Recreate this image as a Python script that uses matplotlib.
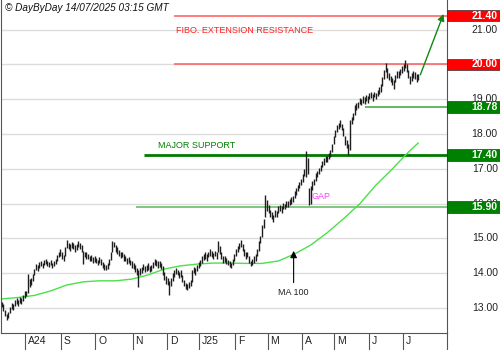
import numpy as np
import matplotlib
matplotlib.use('Agg')
import matplotlib.pyplot as plt
import matplotlib.transforms as mtransforms
from matplotlib.patches import Rectangle

plt.rcParams['font.family'] = ['Liberation Sans', 'DejaVu Sans']

# daily bars, index 0 = first session of August 2024
first_bar = -15
lows = [
    13.02, 12.92, 12.76, 12.66, 12.72, 12.85, 12.98, 12.93, 13.05, 13.12, 13.05, 13.15, 13.10, 13.20, 13.30,
    13.35, 13.42, 13.60, 13.65, 13.78, 13.95, 14.08, 14.05, 14.15, 14.20, 14.15, 14.22, 14.26, 14.20, 14.18, 14.22, 14.15, 14.20, 14.25, 14.35, 14.45, 14.50,
    14.42, 14.35, 14.50, 14.72, 14.70, 14.65, 14.72, 14.68, 14.60, 14.66, 14.75, 14.70, 14.62, 14.25, 14.45, 14.42, 14.40, 14.34, 14.36, 14.30, 14.32,
    14.28, 14.22, 14.28, 14.24, 14.16, 14.10, 14.08, 14.12, 14.22, 14.38, 14.60, 14.75, 14.62, 14.55, 14.48, 14.44, 14.46, 14.36, 14.34, 14.26, 14.28, 14.22, 14.16,
    14.12, 14.04, 13.96, 13.60, 13.95, 14.00, 14.08, 14.04, 14.06, 14.10, 14.04, 14.06, 14.14, 14.22, 14.20, 14.16, 14.18, 14.12, 13.95, 13.80, 13.70,
    13.65, 13.37, 13.62, 13.78, 13.90, 13.98, 13.94, 13.86, 13.90, 13.76, 13.62, 13.55, 13.52, 13.56, 13.62, 13.75, 14.00, 13.96, 14.05, 14.15,
    14.20, 14.30, 14.38, 14.42, 14.36, 14.45, 14.50, 14.46, 14.42, 14.48, 14.42, 14.60, 14.55, 14.42, 14.30, 14.32, 14.26, 14.22, 14.18, 14.15, 14.24, 14.35,
    14.50, 14.60, 14.70, 14.76, 14.65, 14.50, 14.42, 14.45, 14.30, 14.20, 14.24, 14.30, 14.36, 14.48, 14.65, 14.88, 15.05, 15.30, 15.60, 15.80,
    15.72, 15.60, 15.55, 15.48, 15.60, 15.62, 15.72, 15.78, 15.74, 15.84, 15.84, 15.90, 15.90, 15.95, 16.00, 16.05, 16.15, 16.26, 16.35, 16.44, 16.52,
    16.62, 16.78, 16.75, 16.85, 15.95, 16.00, 16.40, 16.52, 16.65, 16.76, 16.85, 16.95, 17.05, 17.12, 17.20, 17.18, 17.28, 17.35, 17.48, 17.70,
    17.90, 18.05, 18.15, 18.20, 18.10, 17.95, 17.68, 17.60, 17.40, 17.55, 18.28, 18.40, 18.55, 18.70, 18.75, 18.85, 18.82, 18.90, 18.85, 18.95, 18.90,
    19.00, 19.02, 18.95, 19.05, 19.00, 19.08, 19.15, 19.22, 19.38, 19.58, 19.78, 19.60, 19.55, 19.48, 19.40, 19.30, 19.48, 19.62, 19.62, 19.70, 19.75,
    19.82, 19.90, 19.78, 19.60, 19.45, 19.52, 19.62, 19.58, 19.50, 19.55,
]
highs = [
    13.18, 13.12, 12.95, 12.84, 12.88, 13.02, 13.15, 13.10, 13.22, 13.30, 13.22, 13.32, 13.28, 13.38, 13.48,
    13.50, 13.98, 13.82, 13.85, 13.98, 14.12, 14.25, 14.22, 14.32, 14.36, 14.30, 14.38, 14.42, 14.36, 14.32, 14.37, 14.30, 14.35, 14.42, 14.52, 14.62, 14.68,
    14.60, 14.52, 14.75, 14.95, 14.88, 14.85, 14.90, 14.86, 14.80, 14.85, 14.92, 14.88, 14.82, 14.65, 14.62, 14.60, 14.56, 14.50, 14.52, 14.46, 14.48,
    14.44, 14.38, 14.45, 14.40, 14.33, 14.26, 14.24, 14.30, 14.42, 14.60, 14.92, 14.90, 14.82, 14.75, 14.66, 14.60, 14.62, 14.54, 14.50, 14.44, 14.45, 14.38, 14.34,
    14.28, 14.22, 14.14, 14.10, 14.15, 14.18, 14.25, 14.20, 14.24, 14.28, 14.20, 14.24, 14.32, 14.40, 14.38, 14.34, 14.36, 14.30, 14.20, 14.02, 13.92,
    13.85, 13.78, 13.85, 14.00, 14.08, 14.15, 14.10, 14.04, 14.08, 13.95, 13.80, 13.72, 13.68, 13.74, 13.80, 14.08, 14.18, 14.14, 14.22, 14.32,
    14.38, 14.48, 14.55, 14.60, 14.54, 14.62, 14.68, 14.64, 14.58, 14.65, 14.62, 14.92, 14.78, 14.60, 14.48, 14.50, 14.44, 14.38, 14.36, 14.30, 14.42, 14.55,
    14.70, 14.78, 14.88, 14.95, 14.85, 14.70, 14.60, 14.62, 14.50, 14.36, 14.40, 14.48, 14.55, 14.70, 14.92, 15.08, 15.38, 15.55, 16.25, 16.10,
    15.95, 15.82, 15.75, 15.66, 15.82, 15.80, 15.92, 15.95, 15.92, 16.02, 16.00, 16.08, 16.06, 16.12, 16.18, 16.22, 16.35, 16.45, 16.52, 16.62, 16.70,
    16.85, 17.00, 17.50, 17.30, 16.45, 16.50, 16.65, 16.72, 16.88, 16.95, 17.02, 17.12, 17.22, 17.30, 17.38, 17.36, 17.45, 17.55, 17.70, 17.95,
    18.12, 18.25, 18.32, 18.40, 18.30, 18.18, 17.95, 17.82, 17.70, 18.40, 18.50, 18.60, 18.82, 18.88, 18.92, 19.02, 19.00, 19.08, 19.05, 19.12, 19.08,
    19.18, 19.20, 19.15, 19.22, 19.18, 19.26, 19.35, 19.45, 19.65, 19.85, 20.05, 19.90, 19.75, 19.68, 19.62, 19.55, 19.70, 19.82, 19.80, 19.88, 19.95,
    20.02, 20.12, 20.00, 19.85, 19.68, 19.75, 19.82, 19.78, 19.72, 19.72,
]

# MA 100, read every 10 sessions
ma_idx = [-15, -5, 5, 15, 25, 35, 45, 55, 65, 75, 85, 95, 105, 115, 125, 135,
          145, 155, 165, 175, 185, 195, 205, 215, 225, 235, 241]
ma_val = [13.26, 13.30, 13.36, 13.49, 13.66, 13.75, 13.78, 13.78, 13.83, 13.95,
          14.12, 14.21, 14.26, 14.29, 14.29, 14.28, 14.28, 14.35, 14.55, 14.81,
          15.16, 15.56, 15.99, 16.53, 16.99, 17.48, 17.74]

month_starts = [0, 22, 43, 66, 87, 107, 129, 149, 170, 190, 211, 232]
month_labels = ['A24', 'S', 'O', 'N', 'D', 'J25', 'F', 'M', 'A', 'M', 'J', 'J']
price_ticks = [13, 14, 15, 16, 17, 18, 19, 20, 21]

levels = [21.40, 20.00, 18.78, 17.40, 15.90]
level_from = [91, 91, 208.5, 72.5, 67.5]
level_line = ['#ff5a5a', '#ff5a5a', '#3aa53a', '#007a00', '#5cb85c']
level_box = ['#ff0000', '#ff0000', '#008000', '#008000', '#008000']

x_lo, x_hi = -15.84, 258.4
y_lo, y_hi = 12.28, 21.85

fig = plt.figure(figsize=(5, 3.5), dpi=100)
ax = fig.add_axes([0.001, 17 / 350, 446 / 500, 333 / 350])
ax.set_xlim(x_lo, x_hi)
ax.set_ylim(y_lo, y_hi)

for v in price_ticks:
    ax.axhline(v, color='#dcdcdc', lw=1, zorder=0)

x = np.arange(first_bar, first_bar + len(lows))
ax.vlines(x, lows, highs, color='#1e1e1e', lw=1.0, zorder=3)

ax.plot(ma_idx, ma_val, color='#4be04b', lw=1, zorder=2)

for v, x0, c in zip(levels, level_from, level_line):
    lw = 2 if v == 17.40 else 1.1
    ax.hlines(v, x0, x_hi, color=c, lw=lw, zorder=1)

ax.text(92, 20.96, 'FIBO. EXTENSION RESISTANCE', color='#ff2020', fontsize=6.5, va='center')
ax.text(81, 17.68, 'MAJOR SUPPORT', color='#008000', fontsize=6.5, va='center')
ax.text(175.5, 16.19, 'GAP', color='#ff40ff', fontsize=6.5, va='center')
ax.text(164.4, 13.43, 'MA 100', color='#222222', fontsize=6.5, ha='center', va='center')

ax.annotate('', xy=(164.4, 14.64), xytext=(164.4, 13.73),
            arrowprops=dict(arrowstyle='-|>', color='black', lw=0.8,
                            mutation_scale=10, shrinkA=0, shrinkB=0))
ax.annotate('', xy=(256.6, 21.45), xytext=(242.3, 19.70),
            arrowprops=dict(arrowstyle='-|>', color='#118811', lw=1,
                            mutation_scale=10, shrinkA=0, shrinkB=0),
            annotation_clip=False)

ax.text(0.011, 0.976, '\u00a9 DayByDay 14/07/2025 03:15 GMT', transform=ax.transAxes,
        fontsize=7.2, style='italic', va='center', color='#111111')

# price scale on the right; the 20.00 tick sits fully under its level box
tr_y = mtransforms.blended_transform_factory(ax.transAxes, ax.transData)
for v in price_ticks:
    if v in levels:
        continue
    ax.text(1.115, v, '%.2f' % v, transform=tr_y, fontsize=7.5, ha='right',
            va='center', color='#222222', clip_on=False)
for v, c in zip(levels, level_box):
    ax.add_patch(Rectangle((1.0, v - 0.165), 0.125, 0.33, transform=tr_y,
                           facecolor=c, edgecolor='#333333', lw=0.5,
                           clip_on=False, zorder=5))
    ax.text(1.115, v, '%.2f' % v, transform=tr_y, fontsize=7.5, ha='right',
            va='center', color='white', fontweight='bold', clip_on=False, zorder=6)

# month scale at the bottom
tr_x = mtransforms.blended_transform_factory(ax.transData, ax.transAxes)
ax.vlines([m - 0.5 for m in month_starts], -17 / 333, 0, transform=tr_x,
          color='#555555', lw=0.8, clip_on=False)
for m, lab in zip(month_starts, month_labels):
    ax.text(m + 1.2, -8.5 / 333, lab, transform=tr_x, fontsize=7.5,
            ha='left', va='center', color='#222222', clip_on=False)

ax.set_xticks([])
ax.set_yticks([])
ax.spines['top'].set_visible(False)
for s in ['left', 'right', 'bottom']:
    ax.spines[s].set_color('#555555')
    ax.spines[s].set_linewidth(0.8)
ax.plot([1, 1], [0, -17 / 333], transform=ax.transAxes, color='#555555',
        lw=0.8, clip_on=False)

fig.savefig('out.png', dpi=100)
